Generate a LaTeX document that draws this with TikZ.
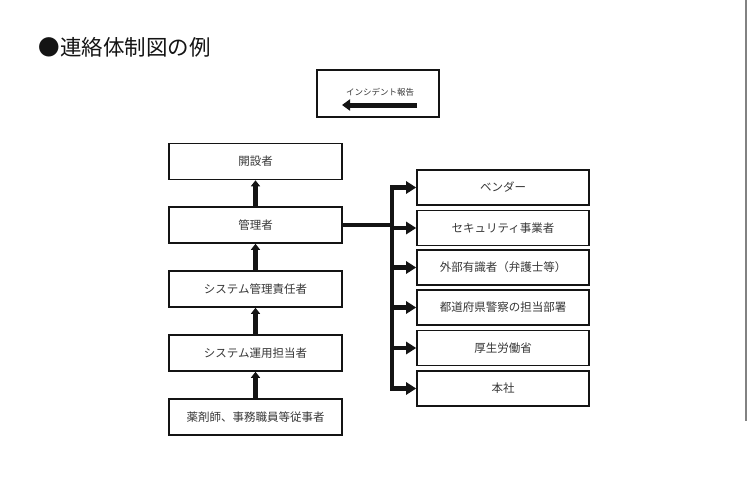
\documentclass[tikz,border=0pt]{standalone}
\usepackage{fontspec}
\setmainfont{Noto Sans CJK JP}
\usepackage{tikz}
\usetikzlibrary{arrows.meta,positioning,calc}
\definecolor{ink}{RGB}{20,20,20}
\definecolor{textgray}{RGB}{55,55,55}
\definecolor{edgegray}{RGB}{130,130,130}

\tikzset{
  orgbox/.style={draw=ink,line width=1.6pt,rectangle,
    minimum width=173pt,minimum height=36pt,inner sep=0pt,
    text=textgray,font=\fontsize{11.5}{13}\selectfont},
  partybox/.style={orgbox,minimum width=172pt,minimum height=35pt},
  uparrow/.style={draw=ink,line width=4.5pt,
    -{Triangle[length=6pt,width=9pt]}},
  sidearrow/.style={draw=ink,line width=4.5pt,
    -{Triangle[length=10pt,width=12pt]}}
}

\begin{document}
\begin{tikzpicture}[x=1pt,y=-1pt]
  \useasboundingbox (0,0) rectangle (750,488);
  \fill[white] (0,0) rectangle (750,488);
  \draw[edgegray,line width=1.5pt] (746,0) -- (746,421);

  \node[anchor=west,text=ink,font=\fontsize{21.5}{24}\selectfont]
    (title) at (35,47) {●連絡体制図の例};

  % legend
  \node[draw=ink,line width=1.6pt,minimum width=122pt,minimum height=47pt]
    (legend) at (378,93.5) {};
  \node[text=textgray,font=\fontsize{8.5}{10}\selectfont]
    (legendtext) at (380,92) {インシデント報告};
  \coordinate (legendfrom) at (417,105);
  \coordinate (legendto) at (342,105);
  \draw[draw=ink,line width=5pt,-{Triangle[length=8pt,width=11pt]}]
    (legendfrom) -- (legendto);

  % left column
  \node[orgbox] (founder) at (255.5,161.5) {開設者};
  \node[orgbox] (manager) at (255.5,225) {管理者};
  \node[orgbox] (sysmgr)  at (255.5,289) {システム管理責任者};
  \node[orgbox] (sysop)   at (255.5,353) {システム運用担当者};
  \node[orgbox] (staff)   at (255.5,417) {薬剤師、事務職員等従事者};

  \draw[uparrow] (manager.north) -- (founder.south);
  \draw[uparrow] (sysmgr.north) -- (manager.south);
  \draw[uparrow] (sysop.north) -- (sysmgr.south);
  \draw[uparrow] (staff.north) -- (sysop.south);

  % right column
  \node[partybox] (vendor)   at (503,187.5) {ベンダー};
  \node[partybox] (security) at (503,228)   {セキュリティ事業者};
  \node[partybox] (expert)   at (503,267.5) {外部有識者（弁護士等）};
  \node[partybox] (police)   at (503,307.5) {都道府県警察の担当部署};
  \node[partybox] (mhlw)     at (503,348)   {厚生労働省};
  \node[partybox] (hq)       at (503,388.5) {本社};

  \coordinate (bustop) at (392,185.25);
  \coordinate (busbot) at (392,390.75);
  \draw[draw=ink,line width=4.5pt] (bustop) -- (busbot);
  \draw[draw=ink,line width=4.5pt] (manager.east) -- (manager.east -| bustop);
  \foreach \party in {vendor,security,expert,police,mhlw,hq}
    \draw[sidearrow] (\party.west -| bustop) -- (\party.west);
\end{tikzpicture}
\end{document}
